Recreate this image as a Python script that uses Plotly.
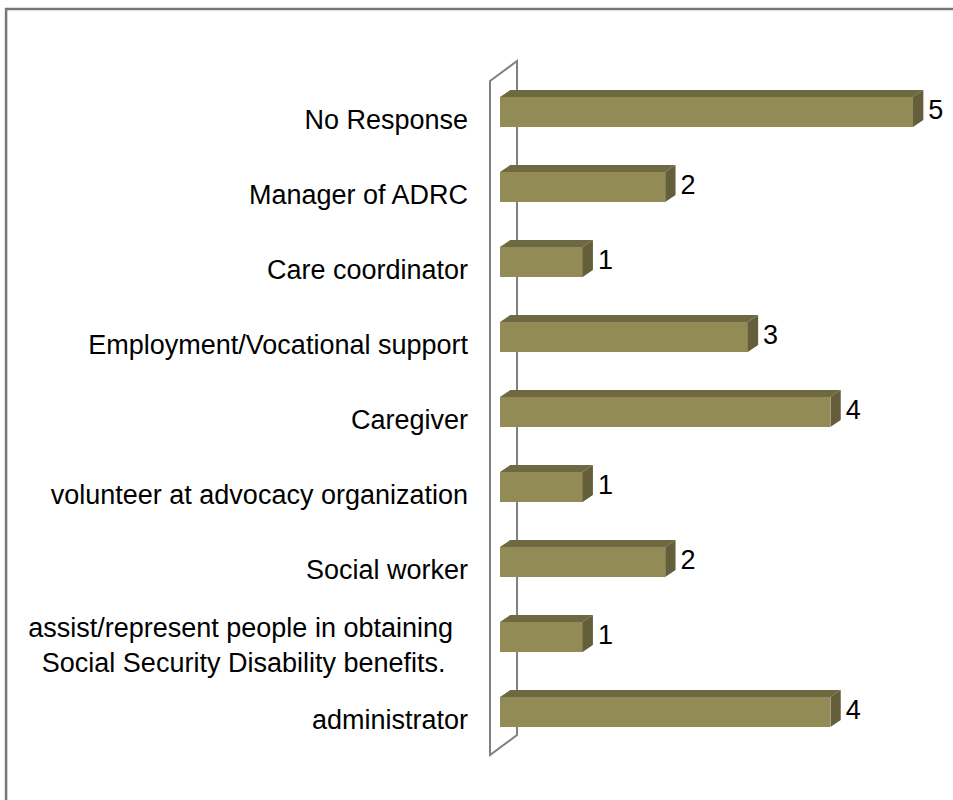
import plotly.graph_objects as go

# Survey responses: role of the respondent
categories = [
    "No Response",
    "Manager of ADRC",
    "Care coordinator",
    "Employment/Vocational support",
    "Caregiver",
    "volunteer at advocacy organization",
    "Social worker",
    "assist/represent people in obtaining\u00a0\u00a0<br>Social Security Disability benefits.\u00a0\u00a0\u00a0",
    "administrator",
]
values = [5, 2, 1, 3, 4, 1, 2, 1, 4]

# styling
FRONT = "#938B56"
TOP = "#6E6941"
SIDE = "#645F3A"
FONT = "Liberation Sans, Arial, sans-serif"
FSIZE = 27
BAR_H = 0.4      # bar thickness in category units
DX = 0.125       # 3D depth, value units
DY = 0.093       # 3D depth, category units
LABEL_GAP = 0.06 # gap between bar end and its value label, value units

idx = list(range(len(categories)))

fig = go.Figure()

# front faces of the bars
fig.add_trace(go.Bar(
    x=values, y=idx, orientation="h", width=BAR_H,
    marker=dict(color=FRONT, line=dict(width=0)),
    hoverinfo="skip", showlegend=False,
))

# top and right-side faces for the 3D look
top_x, top_y, side_x, side_y = [], [], [], []
for i, v in zip(idx, values):
    y_top = i - BAR_H / 2
    y_bot = i + BAR_H / 2
    top_x += [0, v, v + DX, DX, 0, None]
    top_y += [y_top, y_top, y_top - DY, y_top - DY, y_top, None]
    side_x += [v, v + DX, v + DX, v, v, None]
    side_y += [y_top, y_top - DY, y_bot - DY, y_bot, y_top, None]

fig.add_trace(go.Scatter(
    x=top_x, y=top_y, mode="lines", fill="toself", fillcolor=TOP,
    line=dict(width=0, color=TOP), hoverinfo="skip", showlegend=False,
))
fig.add_trace(go.Scatter(
    x=side_x, y=side_y, mode="lines", fill="toself", fillcolor=SIDE,
    line=dict(width=0, color=SIDE), hoverinfo="skip", showlegend=False,
))

# value labels
fig.add_trace(go.Scatter(
    x=[v + DX + LABEL_GAP for v in values], y=idx, mode="text",
    text=[str(v) for v in values], textposition="middle right",
    textfont=dict(family=FONT, size=FSIZE, color="black"),
    cliponaxis=False, hoverinfo="skip", showlegend=False,
))

# back wall of the 3D plot
fig.add_shape(
    type="path", xref="x", yref="y", layer="below",
    path="M -0.121,-0.413 L 0.206,-0.68 L 0.206,8.307 L -0.121,8.573 Z",
    line=dict(color="#808080", width=2), fillcolor="white",
)

# chart frame
fig.add_shape(
    type="rect", xref="paper", yref="paper",
    x0=-0.981, x1=1.06, y0=-0.05, y1=1.0413,
    line=dict(color="#777777", width=2.5), fillcolor="rgba(0,0,0,0)",
)

fig.update_layout(
    width=953, height=800,
    margin=dict(l=475, r=0, t=40, b=10),
    paper_bgcolor="white", plot_bgcolor="white",
    font=dict(family=FONT, size=FSIZE, color="black"),
    bargap=0,
    xaxis=dict(range=[-0.3027, 5.484], visible=False, fixedrange=True),
    yaxis=dict(
        range=[9.04, -0.96], tickmode="array", tickvals=idx, ticktext=categories,
        showgrid=False, zeroline=False, showline=False, ticks="",
        ticklabelstandoff=6, ticklabelshift=-8,
        tickfont=dict(family=FONT, size=FSIZE, color="black"),
    ),
)

fig.write_html("out.html")
